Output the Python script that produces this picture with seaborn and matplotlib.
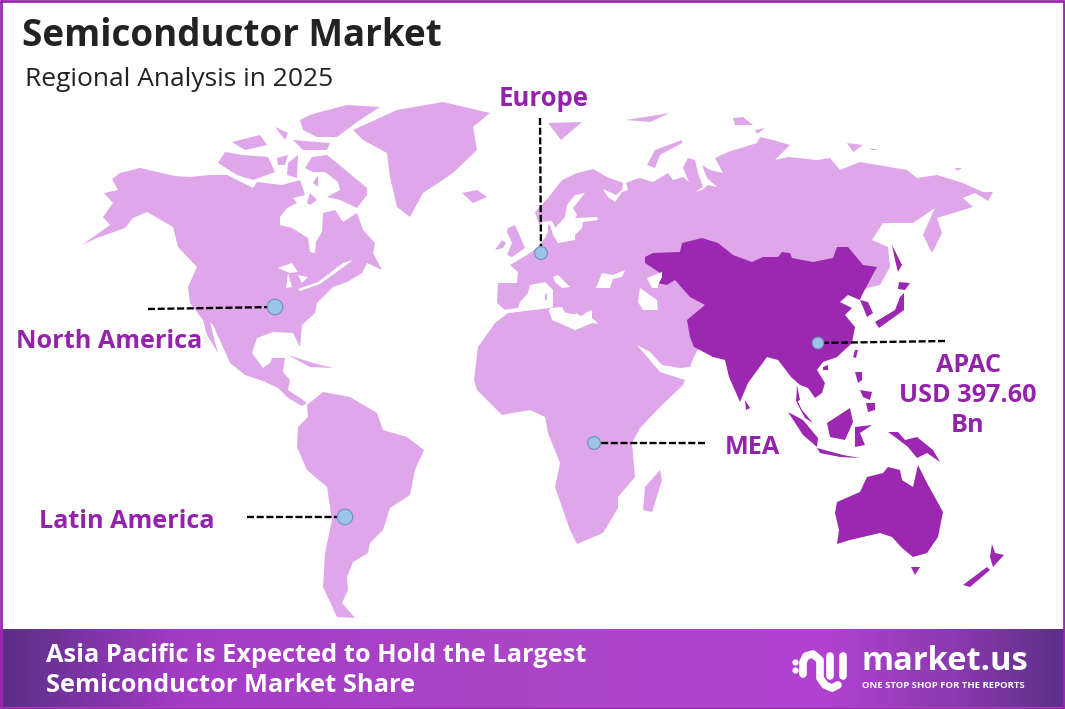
import numpy as np
import matplotlib.pyplot as plt
from matplotlib.colors import LinearSegmentedColormap
import seaborn as sns

# region outlines (x, y in image pixels)
north_america = [(112,179),(120,173),(140,168),(175,176),(190,177),(210,175),(227,175),(237,180),(253,188),(257,182),
                 (282,185),(300,180),(305,195),(293,198),(297,203),(287,208),(280,217),(280,225),(292,228),(308,238),
                 (310,252),(315,253),(316,242),(322,232),(323,213),(335,210),(343,222),(357,213),(363,230),(375,243),
                 (373,253),(382,270),(367,263),(362,273),(347,282),(333,287),(317,303),(315,313),(302,325),(300,347),
                 (293,333),(273,332),(257,338),(252,353),(263,368),(270,363),(272,358),(285,358),(283,372),(290,380),
                 (288,390),(303,400),(307,403),(302,406),(288,398),(278,388),(263,381),(245,375),(230,363),(222,345),
                 (213,325),(210,322),(214,338),(218,353),(207,335),(203,320),(190,303),(188,287),(197,267),(178,247),
                 (173,227),(147,212),(133,218),(125,228),(97,238),(82,245),(110,225),(103,217),(113,203),(104,193),(118,190)]
greenland = [(353,130),(397,110),(443,102),(490,113),(473,127),(477,150),(453,173),(423,193),(410,217),(397,207),
             (390,177),(387,153),(363,140)]
arctic_islands = [[(305,168),(312,157),(327,155),(343,168),(367,188),(367,195),(357,208),(340,200),(327,197),(340,190),
                   (338,182),(325,172),(313,172)],
                  [(218,163),(225,152),(243,155),(268,157),(275,172),(253,180),(237,175)],
                  [(232,142),(260,135),(267,145),(245,150)],
                  [(277,158),(288,155),(285,165),(278,165)],
                  [(288,163),(298,155),(297,178),(287,175)],
                  [(293,140),(330,143),(327,150),(303,150)],
                  [(300,120),(310,115),(320,112),(347,105),(380,107),(357,122),(337,137),(317,137),(303,130)],
                  [(275,127),(288,133),(285,140)],
                  [(307,203),(310,193),(317,200),(310,205)],
                  [(313,183),(318,175),(318,187)],
                  [(462,193),(477,190),(487,197),(473,203)],
                  [(548,123),(582,122),(561,140)],
                  [(647,165),(655,150),(682,140),(682,143),(660,155),(655,168)],
                  [(626,120),(670,113),(650,122)],
                  [(733,118),(743,117),(753,125),(735,125)],
                  [(755,130),(765,128),(757,134)],
                  [(847,143),(863,145),(853,152)],
                  [(870,148),(879,150),(872,150)],
                  [(955,168),(962,168),(957,171)],
                  [(288,355),(313,363),(333,368),(310,367)],
                  [(508,228),(515,225),(525,248),(512,257),(507,255),(512,243),(507,232)],
                  [(495,250),(502,240),(506,243),(503,248)],
                  [(660,470),(662,480),(652,512),(643,510),(645,487)]]
south_america = [(307,405),(323,392),(350,397),(377,413),(383,430),(407,437),(424,450),(415,470),(410,495),(390,508),
                 (383,530),(370,543),(368,553),(353,562),(347,577),(348,590),(342,603),(355,618),(337,617),(323,587),
                 (325,553),(332,520),(327,487),(307,470),(297,447),(298,427),(308,417)]
africa = [(474,380),(478,347),(495,323),(508,313),(548,308),(552,320),(575,330),(592,323),(610,325),(637,345),
          (660,372),(685,380),(683,385),(660,407),(640,428),(632,443),(635,477),(618,497),(618,508),(603,533),
          (577,544),(570,530),(555,487),(560,463),(548,433),(545,417),(530,410),(502,415),(477,390)]
eurasia = [(498,283),(497,303),(505,310),(518,308),(553,310),(592,318),(600,325),(637,345),(650,352),(662,365),
           (680,368),(690,367),(694,357),(700,345),(760,330),(860,290),(880,285),(890,267),(888,247),(872,240),
           (883,223),(913,223),(935,208),(923,235),(932,253),(942,233),(937,218),(973,207),(963,198),(975,193),
           (988,201),(993,192),(983,192),(963,183),(937,175),(917,178),(907,170),(860,162),(840,170),(830,158),
           (817,160),(788,157),(775,160),(790,145),(773,140),(760,137),(757,143),(728,152),(715,158),(723,173),
           (710,170),(702,165),(707,178),(717,187),(708,185),(702,190),(695,192),(703,187),(698,173),(695,160),
           (688,158),(683,168),(689,182),(683,177),(673,180),(668,173),(653,182),(640,178),(633,180),(626,183),
           (628,190),(622,192),(615,202),(608,197),(603,189),(616,195),(622,190),(623,183),(607,177),(593,169),
           (577,173),(562,180),(548,198),(535,212),(539,224),(548,222),(548,232),(545,238),(538,247),(527,255),
           (510,265),(518,272),(517,283)]
apac_main = [(645,257),(653,253),(680,252),(682,243),(702,238),(718,243),(733,255),(752,262),(763,257),(778,257),
             (782,252),(790,253),(792,258),(813,262),(833,258),(837,247),(848,247),(863,265),(877,267),(870,280),
             (862,295),(860,300),(868,302),(873,313),(867,317),(863,307),(860,300),(848,295),(840,302),(852,308),
             (845,315),(855,327),(852,343),(837,357),(823,362),(817,370),(825,383),(822,393),(815,398),(808,388),
             (800,385),(791,377),(778,360),(767,357),(748,383),(740,402),(729,377),(725,360),(713,357),(694,347),
             (690,337),(687,320),(705,305),(690,297),(675,280),(667,285),(657,283),(660,273),(645,263)]
apac_islands = [[(797,400),(802,410),(813,423),(805,418),(797,403)],
                [(797,385),(800,400),(796,402)],
                [(788,412),(803,420),(818,438),(817,447),(803,435)],
                [(827,423),(850,408),(853,422),(845,440),(830,437)],
                [(817,448),(843,455),(860,458),(840,457),(820,453)],
                [(855,427),(872,425),(860,433),(865,445),(855,447)],
                [(888,432),(898,432),(905,440),(917,437),(933,450),(940,462),(927,453),(917,458),(908,447),(895,437)],
                [(855,372),(862,372),(862,380),(858,383)],
                [(866,403),(875,403),(875,410),(868,412)],
                [(860,390),(872,392),(870,400),(863,397)],
                [(855,350),(858,350),(856,358),(853,357)],
                [(823,367),(828,365),(828,370),(823,370)],
                [(745,400),(750,408),(746,410)],
                [(837,502),(860,492),(867,477),(883,473),(888,467),(900,470),(902,480),(913,487),(918,465),(927,483),
                 (943,512),(938,537),(927,553),(913,557),(902,548),(892,537),(880,533),(850,540),(837,544),(839,530),
                 (835,513)],
                [(911,567),(920,567),(915,575)],
                [(963,585),(987,567),(990,570),(970,587)],
                [(992,544),(995,553),(1004,555),(993,567),(990,557)],
                [(875,322),(895,310),(900,297),(904,293),(904,310),(893,318),(879,328)],
                [(899,282),(910,283),(905,290),(898,289)],
                [(892,245),(902,265),(898,272),(895,260)]]
# water cut out of the land
seas = [[(505,310),(518,308),(520,302),(528,293),(530,285),(545,282),(553,290),(553,307),(550,308),(507,313)],
        [(550,308),(562,307),(568,318),(577,313),(580,317),(587,312),(592,310),(592,323),(575,330),(552,318)],
        [(553,277),(558,275),(570,287),(562,288),(555,282)],
        [(596,288),(602,273),(613,275),(625,270),(622,277),(613,279),(610,288)],
        [(638,302),(640,288),(650,295),(657,300),(658,310),(643,310)],
        [(575,195),(585,193),(573,208),(577,215),(575,218),(597,217),(598,220),(583,222),(582,228),(575,235),
         (575,240),(558,243),(553,235),(555,228),(565,217),(567,205)],
        [(540,222),(552,221),(556,229),(553,235),(550,225)],
        [(278,268),(292,263),(298,272),(290,273)],
        [(288,273),(292,287),(286,288)],
        [(298,275),(308,277),(302,283)],
        [(298,289),(318,282),(320,284),(300,291)],
        [(318,282),(343,263),(353,260),(345,266),(320,284)]]
# small islands sitting in the seas above
med_islands = [[(545,295),(547,293),(547,300),(545,300)]]
# northern end of the Caspian, drawn on top of the dark region
caspian_north = [(647,278),(662,272),(662,277),(658,285),(658,288),(652,288)]

# callouts
hub_names = ["North America", "Europe", "APAC", "MEA", "Latin America"]
hub_x = [275, 541, 818, 594, 345]
hub_y = [307, 253, 343, 443, 517]
hub_area = [125, 85, 70, 85, 125]
leader_x = [148, 540, 945, 705, 247]
leader_y = [309, 118, 341, 443, 517]

LIGHT = "#DFA6EA"
DARK = "#9C27B0"
LABEL = "#9423AB"
FONT = "Open Sans"

sns.set_theme(style="white")
plt.rcParams["font.family"] = [FONT, "DejaVu Sans"]

fig = plt.figure(figsize=(10.65, 7.09), dpi=100)
ax = fig.add_axes([0, 0, 1, 1])
ax.axis("off")

# land
for poly in [north_america, greenland, south_america, africa, eurasia] + arctic_islands:
    ax.fill(*zip(*poly), color=LIGHT, lw=0, zorder=1)
for poly in seas:
    ax.fill(*zip(*poly), color="white", lw=0, zorder=2)
for poly in med_islands:
    ax.fill(*zip(*poly), color=LIGHT, lw=0, zorder=2.5)
for poly in [apac_main] + apac_islands:
    ax.fill(*zip(*poly), color=DARK, lw=0, zorder=3)
ax.fill(*zip(*caspian_north), color="white", lw=0, zorder=3.5)

# leader lines and dots
for i in range(len(hub_names)):
    sns.lineplot(x=[leader_x[i], hub_x[i]], y=[leader_y[i], hub_y[i]], sort=False, estimator=None, ax=ax,
                 color="black", linewidth=1.7, linestyle=(0, (3, 1.1)), zorder=4, legend=False)
sns.scatterplot(x=hub_x, y=hub_y, s=hub_area, color="#9DC3E6", edgecolor="#6C8FC4", linewidth=0.8, ax=ax,
                zorder=5, legend=False)

# footer band
band = LinearSegmentedColormap.from_list("band", [(0, "#5A2E87"), (0.17, "#A53CC6"), (0.5, "#AC46C8"),
                                                  (0.78, "#B042D0"), (0.9, "#8A3AAE"), (1, "#5C3088")])
ax.imshow(np.linspace(0, 1, 512).reshape(1, -1), cmap=band, extent=[0, 1065, 707, 629], aspect="auto", zorder=6)

# frame
ax.plot([1, 1064, 1064, 1, 1], [1, 1, 708, 708, 1], color=DARK, lw=2, zorder=7)
ax.set_xlim(0, 1065)
ax.set_ylim(709, 0)

# titles
ax.text(22, 36, "Semiconductor Market", fontsize=26.5, fontweight="bold", color="#222222", va="center")
ax.text(25, 79, "Regional Analysis in 2025", fontsize=19, color="#222222", va="center")

# region labels
ax.text(544, 99, "Europe", fontsize=18.5, fontweight="bold", color=LABEL, ha="center", va="center")
ax.text(109, 342, "North America", fontsize=18.2, fontweight="bold", color=LABEL, ha="center", va="center")
ax.text(127, 521, "Latin America", fontsize=18.2, fontweight="bold", color=LABEL, ha="center", va="center")
ax.text(752, 447, "MEA", fontsize=18.2, fontweight="bold", color=LABEL, ha="center", va="center")
for y, line in zip([365, 395, 425], ["APAC", "USD 397.60", "Bn"]):
    ax.text(968, y, line, fontsize=18.2, fontweight="bold", color=LABEL, ha="center", va="center")

# footer text
ax.text(46, 655, "Asia Pacific is Expected to Hold the Largest", fontsize=18.3, fontweight="bold", color="white",
        va="center", zorder=8)
ax.text(46, 685, "Semiconductor Market Share", fontsize=18.3, fontweight="bold", color="white", va="center", zorder=8)

# logo
ax.plot([803, 803, 806, 813, 820, 820, 825, 832, 838], [674, 662, 656, 654, 660, 678, 685, 688, 685], color="white",
        lw=5.5, solid_capstyle="round", solid_joinstyle="round", zorder=8)
ax.plot([830, 830], [656, 676], color="white", lw=5.5, solid_capstyle="round", zorder=8)
ax.plot([843, 843], [656, 676], color="white", lw=5.5, solid_capstyle="round", zorder=8)
ax.scatter([795, 795], [662, 670], s=20, color="white", linewidth=0, zorder=8)
ax.text(862, 661, "market.us", fontsize=23.5, fontweight="bold", color="white", va="center", zorder=8)
ax.text(862, 685, "ONE STOP SHOP FOR THE REPORTS", fontsize=6.8, fontweight="bold", color="white", va="center", zorder=8)

fig.savefig("out.png", dpi=100)
